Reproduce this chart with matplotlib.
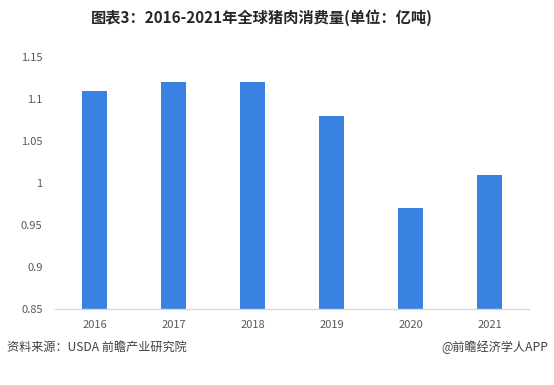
import matplotlib
matplotlib.use("Agg")
import matplotlib.pyplot as plt
from matplotlib.ticker import FixedLocator, FixedFormatter

plt.rcParams['font.family'] = ['Noto Sans CJK SC', 'DejaVu Sans']

years = ["2016", "2017", "2018", "2019", "2020", "2021"]
values = [1.11, 1.12, 1.12, 1.08, 0.97, 1.01]
yticks = [0.85, 0.9, 0.95, 1.0, 1.05, 1.1, 1.15]
ytick_labels = ["0.85", "0.9", "0.95", "1", "1.05", "1.1", "1.15"]
title = "图表3：2016-2021年全球猪肉消费量(单位：亿吨)"
source = "资料来源：USDA 前瞻产业研究院"
credit = "@前瞻经济学人APP"

fig = plt.figure(figsize=(5.54, 3.85), dpi=100)
ax = fig.add_axes([0.0993, 0.197, 0.856, 0.655])

x = list(range(len(years)))
ax.bar(x, values, width=0.32, color="#3a82e2", bottom=0)
ax.set_xlim(-0.5, len(years) - 0.5)
ax.set_ylim(0.85, 1.15)
ax.yaxis.set_major_locator(FixedLocator(yticks))
ax.yaxis.set_major_formatter(FixedFormatter(ytick_labels))
ax.set_xticks(x)
ax.set_xticklabels(years)

for s in ["top", "right", "left"]:
    ax.spines[s].set_visible(False)
ax.spines["bottom"].set_color("#d9d9d9")
ax.spines["bottom"].set_linewidth(1.0)

ax.tick_params(axis="both", length=0, labelsize=8, colors="#595959")
ax.tick_params(axis="y", pad=9)
ax.tick_params(axis="x", pad=7.5)

fig.text(0.472, 0.955, title, ha="center", va="center", fontsize=11,
         fontweight="bold", color="#262626")
fig.text(0.013, 0.097, source, ha="left", va="center", fontsize=8.7,
         color="#404040")
fig.text(0.99, 0.097, credit, ha="right", va="center", fontsize=8.7,
         color="#404040")

fig.savefig("out.png", dpi=100, facecolor="white")
